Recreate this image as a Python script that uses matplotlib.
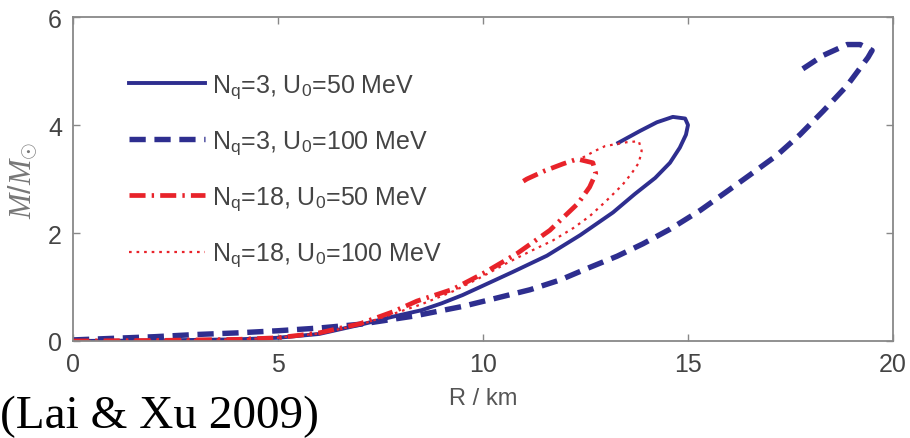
import matplotlib
matplotlib.use("Agg")
import matplotlib.pyplot as plt

plt.rcParams['font.family'] = ['Liberation Sans', 'DejaVu Sans']
plt.rcParams['mathtext.fontset'] = 'custom'
plt.rcParams['mathtext.rm'] = 'Liberation Sans'
plt.rcParams['mathtext.it'] = 'Liberation Serif:italic'

# Data (R in km, M in solar masses)
r_nq3_u50 = [0, 2, 4, 5, 6, 7, 7.8, 8.5, 9.0, 9.5, 9.93, 10.73, 11.56, 12.37, 13.17, 13.7,
             14.2, 14.56, 14.8, 14.95, 15.0, 14.93, 14.63, 14.24, 13.83, 13.3]
m_nq3_u50 = [0, 0.01, 0.03, 0.06, 0.13, 0.3, 0.45, 0.57, 0.7, 0.85, 1.0, 1.28, 1.58, 1.96, 2.38, 2.72,
             3.02, 3.3, 3.58, 3.82, 4.0, 4.12, 4.15, 4.05, 3.89, 3.67]

r_nq3_u100 = [0, 1, 2, 3, 4, 5, 6, 7, 8.3, 9.5, 10.25, 11.15, 11.88, 12.53, 13.27, 13.9, 14.56,
              15.3, 15.95, 16.5, 17.17, 17.73, 18.3, 18.88, 19.39, 19.49, 19.2, 18.88, 18.3, 17.78]
m_nq3_u100 = [0.02, 0.05, 0.08, 0.12, 0.15, 0.19, 0.24, 0.31, 0.46, 0.64, 0.78, 0.95, 1.13, 1.34,
              1.57, 1.8, 2.07, 2.42, 2.77, 3.07, 3.44, 3.82, 4.26, 4.73, 5.25, 5.38, 5.49, 5.49,
              5.29, 5.03]

r_nq18_u50 = [0, 2, 4, 5, 6, 7, 7.8, 8.39, 9.27, 10.0, 10.83, 11.63, 12.32, 12.6, 12.75, 12.68,
              12.3, 11.95, 11.5, 11.07, 10.9]
m_nq18_u50 = [0, 0.01, 0.03, 0.06, 0.15, 0.32, 0.54, 0.74, 0.96, 1.25, 1.62, 2.05, 2.55, 2.85, 3.1,
              3.3, 3.37, 3.28, 3.15, 3.0, 2.92]

r_nq18_u100 = [0, 2, 4, 5, 6, 7, 7.8, 8.5, 9.3, 10.0, 10.6, 11.15, 11.7, 12.2, 12.6, 13.0, 13.4,
               13.63, 13.8, 13.87, 13.8, 13.5, 12.98, 12.73, 12.37]
m_nq18_u100 = [0, 0.01, 0.03, 0.06, 0.14, 0.3, 0.5, 0.68, 0.93, 1.2, 1.45, 1.66, 1.86, 2.09, 2.31,
               2.59, 2.89, 3.11, 3.3, 3.52, 3.7, 3.68, 3.61, 3.52, 3.37]

labels = [r'N$_{\rm q}$=3, U$_{\rm 0}$=50 MeV',
          r'N$_{\rm q}$=3, U$_{\rm 0}$=100 MeV',
          r'N$_{\rm q}$=18, U$_{\rm 0}$=50 MeV',
          r'N$_{\rm q}$=18, U$_{\rm 0}$=100 MeV']
xticks = [0, 5, 10, 15, 20]
yticks = [0, 2, 4, 6]

blue = '#2e2e8f'
red = '#e8232a'

fig = plt.figure(figsize=(9.1, 4.39), dpi=100)
ax = fig.add_axes([73/910, 1-342/439, (893-73)/910, (342-18)/439])

ax.plot(r_nq3_u50, m_nq3_u50, color=blue, lw=2.8, ls='-', label=labels[0],
        solid_joinstyle='round')
ax.plot(r_nq3_u100, m_nq3_u100, color=blue, lw=3.9, ls=(0, (3.0, 1.6)), label=labels[1])
ax.plot(r_nq18_u50, m_nq18_u50, color=red, lw=3.4, ls=(0, (3.4, 1.3, 0.5, 1.3)), label=labels[2])
ax.plot(r_nq18_u100, m_nq18_u100, color=red, lw=1.6, ls=(0, (1.2, 2.2)), label=labels[3])

ax.set_xlim(0, 20)
ax.set_ylim(0, 6)
ax.set_xticks(xticks)
ax.set_yticks(yticks)
ax.tick_params(direction='in', length=5, width=1, colors='#888888',
               labelcolor='#444444', labelsize=18, top=True, right=True, pad=8)
for s in ax.spines.values():
    s.set_color('#888888')
    s.set_linewidth(1.3)

ax.set_xlabel('R / km', fontsize=17, color='#555555', labelpad=8)
ax.set_ylabel(r'$M/M_{\odot}$', fontsize=22, color='#777777', labelpad=6)

leg = ax.legend(loc='upper left', bbox_to_anchor=(106/910, 1-51/439),
                bbox_transform=fig.transFigure, frameon=False, fontsize=18,
                handlelength=3.05, handletextpad=0.28, labelspacing=1.12)
for t in leg.get_texts():
    t.set_color('#444444')

fig.text(0/910, 1-428/439, '(Lai & Xu 2009)', fontsize=34,
         family=['Liberation Serif', 'DejaVu Serif'], color='black', ha='left', va='baseline')

fig.savefig('out.png', dpi=100)
